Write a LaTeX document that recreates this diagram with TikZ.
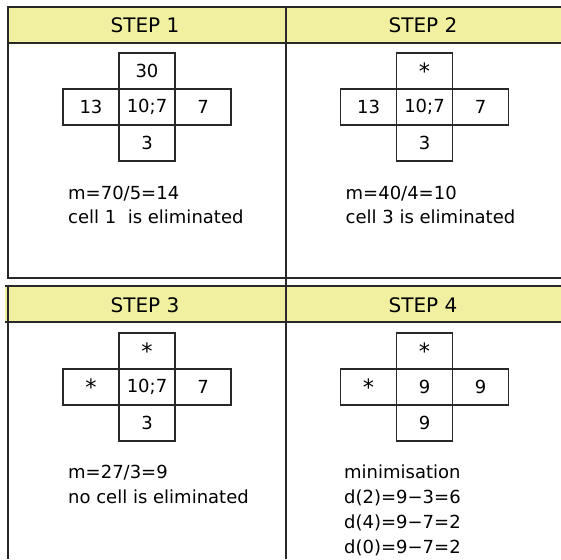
\documentclass[tikz,border=0pt]{standalone}
\usepackage{fontspec}
\setmainfont{DejaVu Sans}
\definecolor{hdryellow}{RGB}{240,240,160}
\definecolor{linegray}{RGB}{40,40,40}
\tikzset{
  cellbox/.style={draw=linegray, line width=1.1pt, minimum width=56pt, minimum height=36pt, inner sep=0pt, font=\fontsize{18}{20}\selectfont},
  hdrtext/.style={anchor=base, inner sep=0pt, font=\fontsize{20}{22}\selectfont},
  bodytext/.style={anchor=base west, inner sep=0pt, font=\fontsize{18}{20}\selectfont},
  frameline/.style={draw=linegray, line width=1.2pt},
}
\newcommand{\starmark}{\raisebox{-0.65ex}{\scalebox{1.25}{*}}}
\newcommand{\crossgrid}[8]{%
  \node[cellbox] (#1c) at (#2,#3) {#6};
  \node[cellbox] (#1t) at (#2,#3-36) {#4};
  \node[cellbox] (#1l) at (#2-56,#3) {#5};
  \node[cellbox] (#1r) at (#2+56,#3) {#7};
  \node[cellbox] (#1b) at (#2,#3+36) {#8};
}
\begin{document}
\begin{tikzpicture}[x=1pt,y=-1pt]
\useasboundingbox (0,0) rectangle (561,559);
% top table
\fill[hdryellow] (8,7) rectangle (561,43);
\draw[frameline] (561,7) -- (8,7) -- (8,278) -- (561,278);
\draw[frameline] (8,43) -- (561,43);
% bottom table
\fill[hdryellow] (5,286) rectangle (561,322);
\draw[frameline] (5,286) -- (561,286);
\draw[frameline] (5,322) -- (561,322);
\draw[frameline] (8,286) -- (8,559);
% middle vertical
\draw[frameline] (286,7) -- (286,559);
% headers
\node[hdrtext] (h1) at (145,32.5) {STEP 1};
\node[hdrtext] (h2) at (423,32.5) {STEP 2};
\node[hdrtext] (h3) at (145,312) {STEP 3};
\node[hdrtext] (h4) at (423,312) {STEP 4};
% crosses
\crossgrid{a}{147}{107}{30}{13}{10;7}{7}{3}
\crossgrid{b}{424.5}{107}{\starmark}{13}{10;7}{7}{3}
\crossgrid{c}{147}{387}{\starmark}{\starmark}{10;7}{7}{3}
\crossgrid{d}{424.5}{387}{\starmark}{\starmark}{9}{9}{9}
% texts
\node[bodytext] (t1a) at (68,199.5) {m=70/5=14};
\node[bodytext] (t1b) at (68,223) {cell 1 \ is eliminated};
\node[bodytext] (t2a) at (345.5,199.5) {m=40/4=10};
\node[bodytext] (t2b) at (345.5,223) {cell 3 is eliminated};
\node[bodytext] (t3a) at (68,478.5) {m=27/3=9};
\node[bodytext] (t3b) at (68,503.5) {no cell is eliminated};
\node[bodytext] (t4a) at (344,478) {minimisation};
\node[bodytext] (t4b) at (344,503) {d(2)=9−3=6};
\node[bodytext] (t4c) at (344,528.5) {d(4)=9−7=2};
\node[bodytext] (t4d) at (344,553) {d(0)=9−7=2};
\end{tikzpicture}
\end{document}
